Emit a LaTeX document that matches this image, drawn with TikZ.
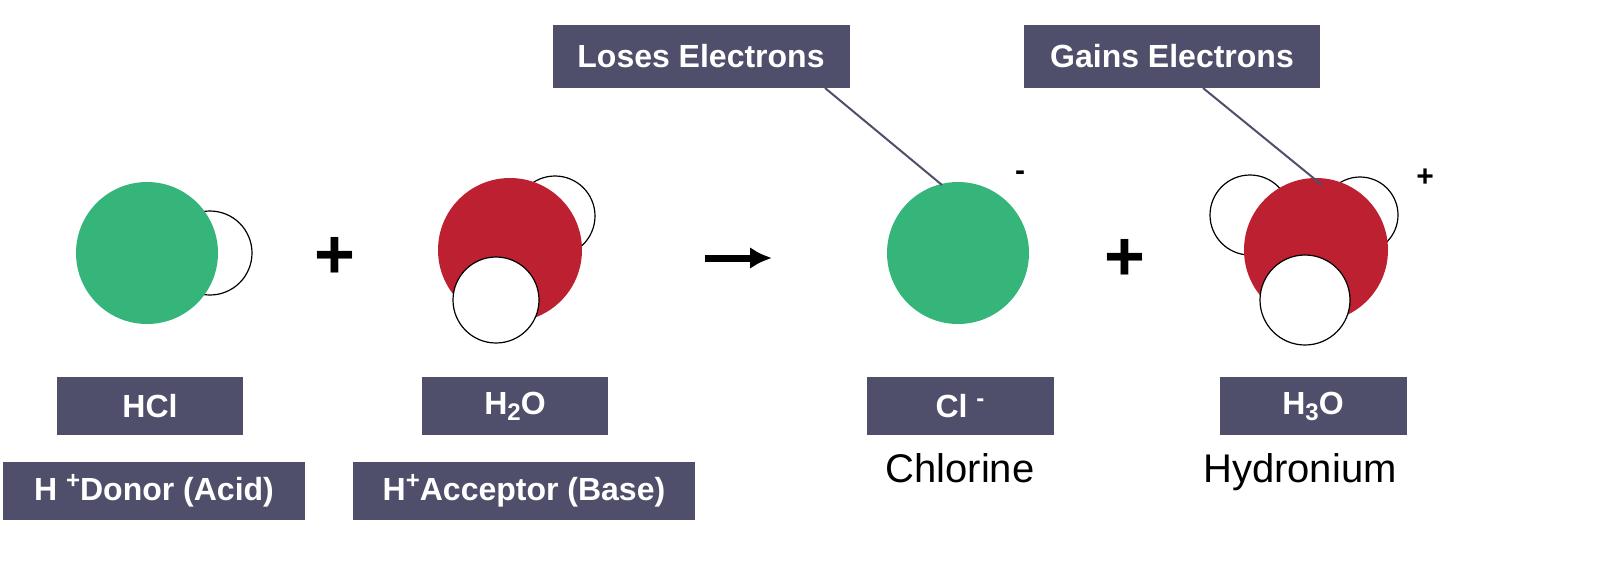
\documentclass[tikz,border=0pt]{standalone}
\usepackage{fontspec}
\setmainfont{Liberation Sans}
\usetikzlibrary{arrows.meta}
\begin{document}
\begin{tikzpicture}[x=1pt,y=-1pt,
 box/.style={fill=boxc,text=white,font=\fontsize{32}{34}\selectfont\bfseries,inner sep=0pt,minimum height=58pt},
 grn/.style={circle,fill=grnc,minimum size=142pt,inner sep=0pt},
 redb/.style={circle,fill=redc,minimum size=144pt,inner sep=0pt},
 wht/.style={circle,draw=black,line width=1.2pt,fill=white,inner sep=0pt},
 sym/.style={font=\fontsize{70}{70}\selectfont\bfseries,inner sep=0pt},
 plain/.style={font=\fontsize{40}{42}\selectfont,inner sep=0pt},
 lead/.style={draw=boxc,line width=2pt}]
\definecolor{boxc}{HTML}{4F4F6B}
\definecolor{grnc}{HTML}{36B57A}
\definecolor{redc}{HTML}{BD2030}
\useasboundingbox (0,0) rectangle (1601,571);
% HCl
\node[wht,minimum size=84pt] (h1) at (210,253) {};
\node[grn] (cl1) at (147,253) {};
\node[sym] (p1) at (335,258) {+};
% H2O
\node[wht,minimum size=80pt] (h2) at (555,216) {};
\node[redb] (o1) at (510,250) {};
\node[wht,minimum size=86pt] (h3) at (496,300) {};
% arrow
\coordinate (a1) at (705,258);
\coordinate (a2) at (772,258);
\draw[line width=7pt,-{Latex[length=22pt,width=22pt]}] (a1) -- (a2);
% Cl-
\node[grn] (cl2) at (958,253) {};
\node[font=\fontsize{30}{30}\selectfont\bfseries] (m1) at (1020,176) {-};
\node[sym] (p2) at (1125,260) {+};
% H3O
\node[wht,minimum size=80pt] (h4) at (1250,215) {};
\node[wht,minimum size=76pt] (h5) at (1360,215) {};
\node[redb] (o2) at (1316,250) {};
\node[wht,minimum size=90pt] (h6) at (1305,300) {};
\node[font=\fontsize{30}{30}\selectfont\bfseries] (pl) at (1425,178) {+};
% labels
\node[box,minimum width=186pt] (b1) at (150,406) {HCl};
\node[box,minimum width=186pt] (b2) at (515,406) {H\raisebox{-6pt}{\fontsize{24}{24}\selectfont 2}O};
\node[box,minimum width=187pt] (b3) at (960,406) {Cl \raisebox{11pt}{\fontsize{24}{24}\selectfont -}};
\node[box,minimum width=187pt] (b4) at (1313,406) {H\raisebox{-6pt}{\fontsize{24}{24}\selectfont 3}O};
\node[box,minimum width=302pt] (b5) at (154,491) {H \raisebox{12pt}{\fontsize{24}{24}\selectfont +}Donor (Acid)};
\node[box,minimum width=342pt] (b6) at (524,491) {H\raisebox{12pt}{\fontsize{24}{24}\selectfont +}Acceptor (Base)};
\node[plain] (t1) at (960,468) {Chlorine};
\node[plain] (t2) at (1300,472) {Hydronium};
\node[box,minimum width=297pt,minimum height=63pt] (l1) at (701,56) {Loses Electrons};
\node[box,minimum width=296pt,minimum height=63pt] (l2) at (1172,56) {Gains Electrons};
\coordinate (e1) at (825,88);
\coordinate (e2) at (942,185);
\coordinate (e3) at (1203,88);
\coordinate (e4) at (1322,185);
\draw[lead] (e1) -- (e2);
\draw[lead] (e3) -- (e4);
\end{tikzpicture}
\end{document}
